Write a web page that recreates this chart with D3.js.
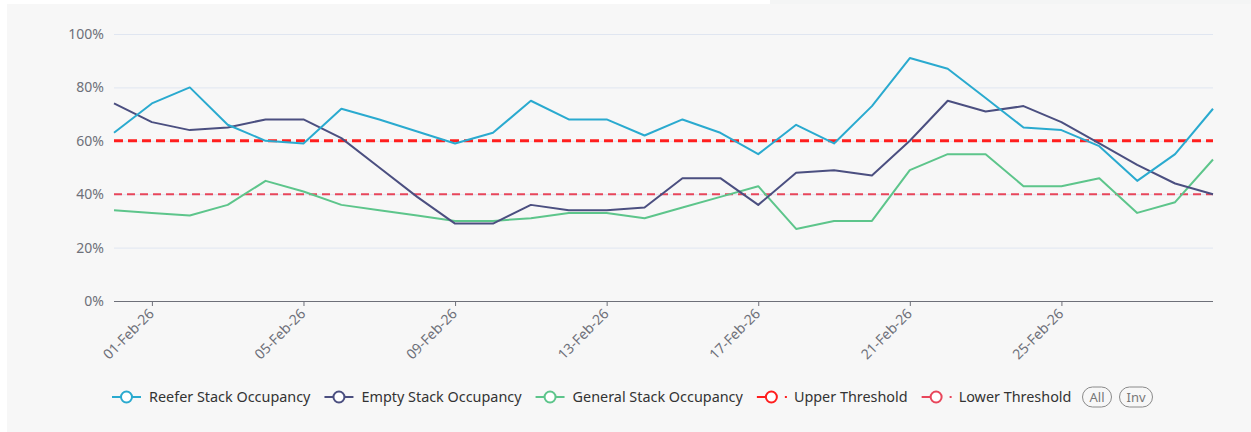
<!DOCTYPE html>
<html>
<head>
<meta charset="utf-8">
<script src="https://cdn.jsdelivr.net/npm/d3@7"></script>
<style>
  html, body { margin: 0; padding: 0; background: #ffffff; }
  svg { display: block; font-family: "Noto Sans", "DejaVu Sans", sans-serif; }
</style>
</head>
<body>
<svg width="1251" height="432"></svg>
<script>
// categories (one per day)
var dates = ["31-Jan-26", "01-Feb-26", "02-Feb-26", "03-Feb-26", "04-Feb-26", "05-Feb-26",
  "06-Feb-26", "07-Feb-26", "08-Feb-26", "09-Feb-26", "10-Feb-26", "11-Feb-26", "12-Feb-26",
  "13-Feb-26", "14-Feb-26", "15-Feb-26", "16-Feb-26", "17-Feb-26", "18-Feb-26", "19-Feb-26",
  "20-Feb-26", "21-Feb-26", "22-Feb-26", "23-Feb-26", "24-Feb-26", "25-Feb-26", "26-Feb-26",
  "27-Feb-26", "28-Feb-26", "01-Mar-26"];

var tickLabels = ["01-Feb-26", "05-Feb-26", "09-Feb-26", "13-Feb-26", "17-Feb-26", "21-Feb-26", "25-Feb-26"];
var yTicks = [0, 0.2, 0.4, 0.6, 0.8, 1.0];

// series values (fraction occupied)
var reefer = [0.63, 0.74, 0.80, 0.66, 0.60, 0.59, 0.72, 0.68, 0.635, 0.59, 0.63, 0.75, 0.68, 0.68, 0.62,
  0.68, 0.63, 0.55, 0.66, 0.59, 0.73, 0.91, 0.87, 0.76, 0.65, 0.64, 0.58, 0.45, 0.55, 0.72];
var empty = [0.74, 0.67, 0.64, 0.65, 0.68, 0.68, 0.61, 0.50, 0.39, 0.29, 0.29, 0.36, 0.34, 0.34, 0.35,
  0.46, 0.46, 0.36, 0.48, 0.49, 0.47, 0.60, 0.75, 0.71, 0.73, 0.67, 0.59, 0.51, 0.44, 0.40];
var general = [0.34, 0.33, 0.32, 0.36, 0.45, 0.41, 0.36, 0.34, 0.32, 0.30, 0.30, 0.31, 0.33, 0.33, 0.31,
  0.35, 0.39, 0.43, 0.27, 0.30, 0.30, 0.49, 0.55, 0.55, 0.43, 0.43, 0.46, 0.33, 0.37, 0.53];

var upperThreshold = 0.6;
var lowerThreshold = 0.4;

var legendNames = ["Reefer Stack Occupancy", "Empty Stack Occupancy", "General Stack Occupancy",
  "Upper Threshold", "Lower Threshold"];

var colors = {
  reefer: "#2aaacf",
  empty: "#4b4f80",
  general: "#5dc58b",
  upper: "#ff1e1e",
  lower: "#e8465b"
};

var svg = d3.select("svg"),
    width = +svg.attr("width"),
    height = +svg.attr("height");

// background panel
svg.append("rect").attr("x", 0).attr("y", 0).attr("width", width).attr("height", height).attr("fill", "#ffffff");
svg.append("rect").attr("x", 770).attr("y", 0).attr("width", width - 770).attr("height", 4).attr("fill", "#f4f5f5");
svg.append("rect").attr("x", 7).attr("y", 4).attr("width", width - 7).attr("height", height - 4).attr("fill", "#f7f7f7");

var x = d3.scalePoint()
    .domain(dates)
    .range([114, 1213]);

var y = d3.scaleLinear()
    .domain([0, 1])
    .range([301, 34]);

// horizontal grid
svg.append("g")
    .selectAll("line")
    .data(yTicks.filter(function(d) { return d > 0; }))
    .enter().append("line")
    .attr("x1", 114).attr("x2", 1213)
    .attr("y1", function(d) { return y(d) + 0.5; })
    .attr("y2", function(d) { return y(d) + 0.5; })
    .attr("stroke", "#e0e6f1")
    .attr("stroke-width", 1);

// y axis labels
var yAxis = d3.axisLeft(y)
    .tickValues(yTicks)
    .tickFormat(d3.format(".0%"))
    .tickSize(0)
    .tickPadding(10);

var gy = svg.append("g")
    .attr("transform", "translate(114,0)")
    .call(yAxis);
gy.select(".domain").remove();
gy.selectAll("text")
    .attr("fill", "#6e7079")
    .style("font-size", "14px")
    .style("font-family", "Noto Sans, sans-serif");

// x axis
var xAxis = d3.axisBottom(x)
    .tickValues(tickLabels)
    .tickSize(5)
    .tickPadding(4);

var gx = svg.append("g")
    .attr("transform", "translate(0,301)")
    .call(xAxis);
gx.select(".domain")
    .attr("d", "M114,0.5H1213")
    .attr("stroke", "#6e7079");
gx.selectAll(".tick line").attr("stroke", "#6e7079");
gx.selectAll("text")
    .attr("fill", "#6e7079")
    .style("font-size", "14px")
    .style("font-family", "Noto Sans, sans-serif")
    .attr("text-anchor", "end")
    .attr("dy", "0.35em")
    .attr("transform", "translate(-1,10) rotate(-45)")
    .attr("y", 0)
    .attr("x", 0);

// threshold lines
svg.append("line")
    .attr("x1", 114).attr("x2", 1213)
    .attr("y1", y(lowerThreshold)).attr("y2", y(lowerThreshold))
    .attr("stroke", colors.lower)
    .attr("stroke-width", 2)
    .attr("stroke-dasharray", "8,5");

svg.append("line")
    .attr("x1", 114).attr("x2", 1213)
    .attr("y1", y(upperThreshold)).attr("y2", y(upperThreshold))
    .attr("stroke", colors.upper)
    .attr("stroke-width", 3)
    .attr("stroke-dasharray", "9,5");

// series
var line = d3.line()
    .x(function(d, i) { return x(dates[i]); })
    .y(function(d) { return y(d); });

[[general, colors.general], [empty, colors.empty], [reefer, colors.reefer]].forEach(function(s) {
    svg.append("path")
        .datum(s[0])
        .attr("d", line)
        .attr("fill", "none")
        .attr("stroke", s[1])
        .attr("stroke-width", 2)
        .attr("stroke-linejoin", "round");
});

// legend
var legendColors = [colors.reefer, colors.empty, colors.general, colors.upper, colors.lower];
var legend = svg.append("g").attr("transform", "translate(0,397)");
var lx = 112;
legendNames.forEach(function(name, i) {
    var g = legend.append("g").attr("transform", "translate(" + lx + ",0)");
    var c = legendColors[i];
    if (i < 3) {
        g.append("line").attr("x1", 0).attr("x2", 29).attr("y1", 0).attr("y2", 0)
            .attr("stroke", c).attr("stroke-width", 2);
    } else {
        g.append("line").attr("x1", 0).attr("x2", 12).attr("y1", 0).attr("y2", 0)
            .attr("stroke", c).attr("stroke-width", 2);
        g.append("rect").attr("x", 28).attr("y", -1).attr("width", 2).attr("height", 2).attr("fill", c);
    }
    g.append("circle").attr("cx", 14.5).attr("cy", 0).attr("r", 5.5)
        .attr("fill", "#ffffff").attr("stroke", c).attr("stroke-width", 2);
    var t = g.append("text")
        .attr("x", 37).attr("y", 0).attr("dy", "0.35em")
        .attr("fill", "#333333")
        .style("font-size", "14.4px")
        .text(name);
    lx += 37 + t.node().getComputedTextLength() + 14;
});

// All / Inv buttons
[["All", 1082, 29], ["Inv", 1119, 33]].forEach(function(b) {
    var g = legend.append("g").attr("transform", "translate(" + b[1] + ",0)");
    g.append("rect").attr("x", 0.5).attr("y", -10).attr("width", b[2]).attr("height", 20)
        .attr("rx", 10).attr("fill", "none").attr("stroke", "#8a8a8a").attr("stroke-width", 1);
    g.append("text").attr("x", b[2] / 2 + 0.5).attr("y", 0).attr("dy", "0.35em")
        .attr("text-anchor", "middle").attr("fill", "#777777").style("font-size", "13px").text(b[0]);
});
</script>
</body>
</html>
